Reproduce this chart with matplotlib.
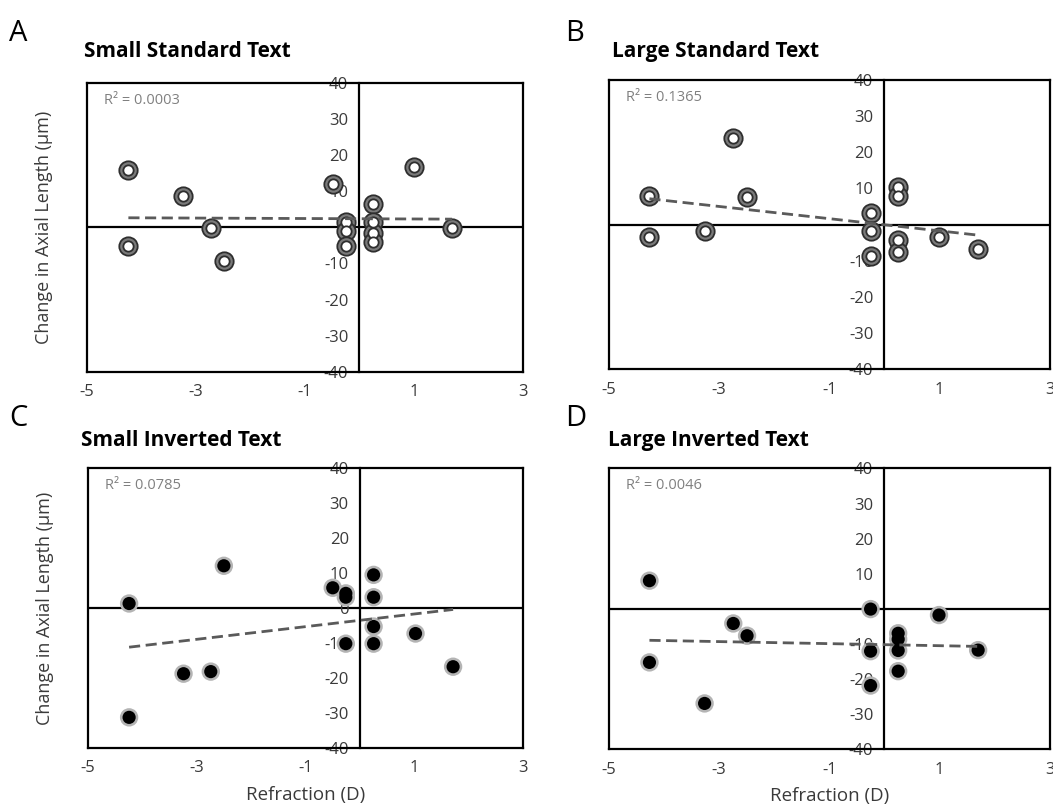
import matplotlib
matplotlib.use('Agg')
import matplotlib.pyplot as plt
import numpy as np

plt.rcParams['font.family'] = ['Open Sans', 'DejaVu Sans']
plt.rcParams['axes.unicode_minus'] = False

# refraction (D) vs change in axial length (um), one pair of lists per panel
refr_a = [-4.24, -4.24, -3.24, -2.73, -2.49, -0.49, -0.25, -0.25, -0.25, 0.25, 0.25, 0.25, 0.25, 1.0, 1.7]
dal_a = [16.0, -5.1, 8.6, -0.1, -9.2, 12.0, 1.6, -1.05, -5.1, 6.6, 1.5, -1.7, -4.2, 16.8, -0.1]

refr_b = [-4.26, -4.26, -3.26, -2.74, -2.50, -0.25, -0.25, -0.25, 0.25, 0.25, 0.25, 0.25, 0.99, 1.70]
dal_b = [7.9, -3.5, -1.8, 24.0, 7.5, 3.2, -1.9, -8.6, 10.5, 7.9, -4.2, -7.7, -3.5, -6.8]

refr_c = [-4.24, -4.24, -3.24, -2.74, -2.50, -0.50, -0.26, -0.26, -0.26, 0.25, 0.25, 0.25, 0.25, 1.02, 1.71]
dal_c = [1.3, -31.3, -18.8, -18.2, 12.1, 5.8, 4.2, 3.1, -10.2, 9.5, 3.1, -5.3, -10.2, -7.3, -16.8]

refr_d = [-4.26, -4.26, -3.26, -2.74, -2.49, -0.25, -0.25, -0.25, 0.25, 0.25, 0.25, 0.25, 0.99, 1.70]
dal_d = [8.0, -15.3, -27.0, -4.2, -7.7, -0.1, -12.1, -21.9, -7.0, -8.7, -11.9, -17.8, -1.8, -11.8]

titles = ['Small Standard Text', 'Large Standard Text', 'Small Inverted Text', 'Large Inverted Text']
letters = ['A', 'B', 'C', 'D']
r2_labels = ['R² = 0.0003', 'R² = 0.1365', 'R² = 0.0785', 'R² = 0.0046']
xticks = [-5, -3, -1, 1, 3]
yticks = [-40, -30, -20, -10, 0, 10, 20, 30, 40]

fig = plt.figure(figsize=(10.53, 8.11), dpi=100)

boxes = [
    [0.0826, 0.5417, 0.414, 0.356],
    [0.578, 0.5446, 0.419, 0.357],
    [0.0833, 0.078, 0.4137, 0.3445],
    [0.578, 0.0764, 0.419, 0.346],
]
# (x, y) of panel letter and title, figure fraction
letter_pos = [(0.009, 0.977), (0.537, 0.977), (0.009, 0.502), (0.537, 0.502)]
title_pos = [(0.080, 0.937), (0.581, 0.937), (0.077, 0.457), (0.577, 0.457)]

data = [(refr_a, dal_a), (refr_b, dal_b), (refr_c, dal_c), (refr_d, dal_d)]

for i in range(4):
    x, y = np.array(data[i][0]), np.array(data[i][1])
    ax = fig.add_axes(boxes[i])
    ax.set_xlim(-5, 3)
    ax.set_ylim(-40, 40)

    # box frame + axes crossing at zero
    ax.spines['left'].set_position(('data', 0))
    for s in ax.spines.values():
        s.set_linewidth(1.6)
        s.set_color('black')
    ax.axvline(-5, color='black', lw=1.6, clip_on=False, zorder=1)
    ax.axhline(0, color='black', lw=1.6, zorder=1)

    ax.set_xticks(xticks)
    ax.set_yticks(yticks)
    ax.tick_params(axis='both', length=0, labelsize=12, labelcolor='#3a3a3a')
    ax.tick_params(axis='x', pad=9)
    ax.tick_params(axis='y', pad=8)

    if i < 2:
        ax.scatter(x, y, s=175, facecolor='#7a7a7a', edgecolor='#2e2e2e', linewidths=1.3, zorder=3)
        ax.scatter(x, y, s=55, facecolor='white', edgecolor='#2e2e2e', linewidths=1.3, zorder=3)
    else:
        ax.scatter(x, y, s=175, facecolor='#b4b4b4', edgecolor='none', zorder=3)
        ax.scatter(x, y, s=90, facecolor='black', edgecolor='none', zorder=3)

    # linear trendline
    m, b = np.polyfit(x, y, 1)
    xs = np.array([x.min(), x.max()])
    ax.plot(xs, m * xs + b, color='#5a5a5a', lw=2, dashes=(4, 2), zorder=4)

    ax.text(0.04, 0.94, r2_labels[i], transform=ax.transAxes, fontsize=10.5,
            color='#808080', va='center', ha='left')

    if i % 2 == 0:
        ax.set_ylabel('Change in Axial Length (µm)', fontsize=13, color='#3a3a3a')
        ax.yaxis.set_label_coords(-0.078, 0.5)
    if i >= 2:
        ax.set_xlabel('Refraction (D)', fontsize=13.5, color='#3a3a3a', labelpad=7)

    fig.text(letter_pos[i][0], letter_pos[i][1], letters[i], fontsize=21, va='top', ha='left')
    fig.text(title_pos[i][0], title_pos[i][1], titles[i], fontsize=15, fontweight='bold',
             va='center', ha='left')

fig.savefig('out.png', dpi=100)
